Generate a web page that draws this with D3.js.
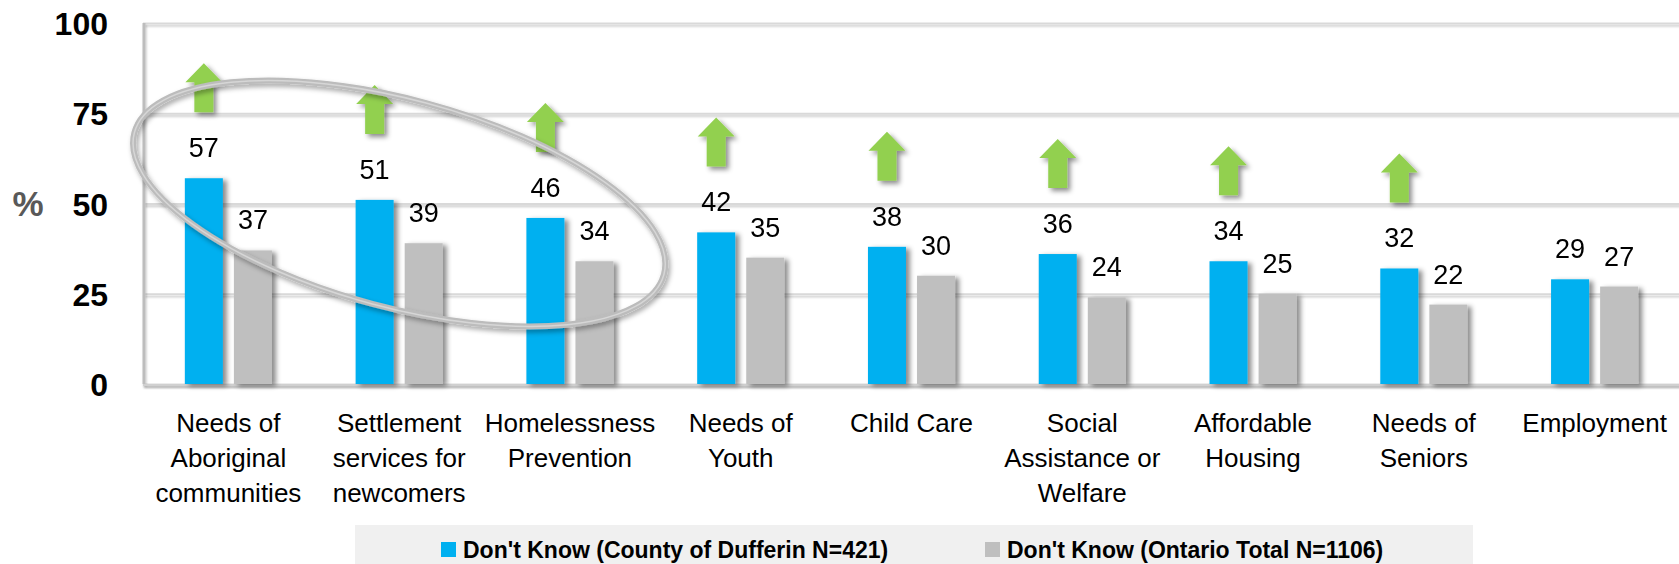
<!DOCTYPE html>
<html>
<head>
<meta charset="utf-8">
<script src="https://cdn.jsdelivr.net/npm/d3@7"></script>
<style>
  html, body { margin: 0; padding: 0; background: #ffffff; }
  svg { display: block; font-family: "Liberation Sans", Arial, sans-serif; }
</style>
</head>
<body>
<svg id="chart" width="1679" height="564"></svg>
<script>
// Service categories (line breaks mark label wrapping)
const categories = [
  "Needs of\nAboriginal\ncommunities",
  "Settlement\nservices for\nnewcomers",
  "Homelessness\nPrevention",
  "Needs of\nYouth",
  "Child Care",
  "Social\nAssistance or\nWelfare",
  "Affordable\nHousing",
  "Needs of\nSeniors",
  "Employment"
];
// "Don't Know" shares, percent
const dufferinValues = [57, 51, 46, 42, 38, 36, 34, 32, 29];
const ontarioValues  = [37, 39, 34, 35, 30, 24, 25, 22, 27];
// Categories where the county share is notably higher than the province
const higherFlags = [true, true, true, true, true, true, true, true, false];
// Categories grouped by the highlight ring
const highlighted = [0, 2];
const seriesNames = [
  "Don't Know (County of Dufferin N=421)",
  "Don't Know (Ontario Total N=1106)"
];
const yTicks = [0, 25, 50, 75, 100];

const seriesColors = ["#00B0F0", "#BFBFBF"];
const svg = d3.select("#chart");
const W = 1679, H = 564;
const plot = { left: 143, right: 1680, top: 23, bottom: 384 };

// Shadow filters (user-space regions so thin lines keep their shadow)
const defs = svg.append("defs");
function shadow(id, dx, dy, sd, op) {
  const f = defs.append("filter").attr("id", id)
    .attr("filterUnits", "userSpaceOnUse")
    .attr("x", -50).attr("y", -50).attr("width", W + 100).attr("height", H + 100);
  f.append("feDropShadow").attr("dx", dx).attr("dy", dy)
    .attr("stdDeviation", sd).attr("flood-color", "#000").attr("flood-opacity", op);
}
shadow("barShadow", 4, 2, 2.5, 0.45);
shadow("lineShadow", 1, 2, 1.2, 0.22);
shadow("arrowShadow", 3, 3, 2.5, 0.45);
shadow("ringShadow", 2, 3, 2.5, 0.35);

const x0 = d3.scaleBand().domain(d3.range(categories.length))
  .range([plot.left, plot.right]).paddingInner(0.49).paddingOuter(0.245);
const x1 = d3.scaleBand().domain([0, 1]).range([0, x0.bandwidth()]).paddingInner(0.225);
const y = d3.scaleLinear().domain([0, 100]).range([plot.bottom, plot.top]);

// Gridlines
const grid = svg.append("g").attr("filter", "url(#lineShadow)")
  .attr("transform", `translate(${plot.left},0)`)
  .call(d3.axisLeft(y).tickValues(yTicks).tickSize(-(plot.right - plot.left)).tickFormat(""));
grid.select(".domain").remove();
grid.selectAll(".tick line").attr("stroke", "#d9d9d9").attr("stroke-width", 2);

// Left wall and base line
const frame = svg.append("g").attr("filter", "url(#lineShadow)");
frame.append("line").attr("x1", plot.left + 1).attr("x2", plot.left + 1)
  .attr("y1", y(100)).attr("y2", y(0)).attr("stroke", "#bdbdbd").attr("stroke-width", 3);
frame.append("line").attr("x1", plot.left).attr("x2", plot.right)
  .attr("y1", y(0) + 1).attr("y2", y(0) + 1).attr("stroke", "#d0d0d0").attr("stroke-width", 2);

// Y tick labels
const yAxis = svg.append("g").attr("transform", "translate(108,0)")
  .call(d3.axisLeft(y).tickValues(yTicks).tickSize(0).tickPadding(0));
yAxis.select(".domain").remove();
yAxis.selectAll("text")
  .attr("font-family", "'Liberation Sans', Arial, sans-serif")
  .attr("font-size", 32).attr("font-weight", "bold").attr("fill", "#000")
  .attr("dy", "0.36em");

svg.append("text").attr("x", 28).attr("y", y(50)).attr("dy", "0.36em")
  .attr("text-anchor", "middle").attr("font-size", 35).attr("font-weight", "bold")
  .attr("fill", "#595959").text("%");

// Bars
const rows = categories.map((c, i) => ({ i, vals: [dufferinValues[i], ontarioValues[i]] }));
const groups = svg.append("g").attr("filter", "url(#barShadow)")
  .selectAll("g").data(rows).join("g")
  .attr("transform", d => `translate(${x0(d.i)},0)`);
// draw grey bars first so the blue bar's shadow sits over them
groups.selectAll("rect").data(d => d.vals.map((v, s) => ({ v, s })).reverse()).join("rect")
  .attr("x", d => x1(d.s)).attr("width", x1.bandwidth())
  .attr("y", d => y(d.v)).attr("height", d => y(0) - y(d.v))
  .attr("fill", d => seriesColors[d.s]);

// Value labels
const labels = svg.append("g");
rows.forEach(r => {
  r.vals.forEach((v, s) => {
    labels.append("text")
      .attr("x", x0(r.i) + x1(s) + x1.bandwidth() / 2)
      .attr("y", y(v) - 21)
      .attr("text-anchor", "middle").attr("font-size", 27).attr("fill", "#000")
      .text(v);
  });
});

// Up arrows above the county bars
const arrowG = svg.append("g").attr("filter", "url(#arrowShadow)");
rows.filter(r => higherFlags[r.i]).forEach(r => {
  const cx = x0(r.i) + x1(0) + x1.bandwidth() / 2;
  const bottom = y(r.vals[0]) - 66;
  const tip = bottom - 49, hh = 19, hw = 18.5, sw = 9.5;
  const p = d3.path();
  p.moveTo(cx, tip);
  p.lineTo(cx + hw, tip + hh);
  p.lineTo(cx + sw, tip + hh);
  p.lineTo(cx + sw, bottom);
  p.lineTo(cx - sw, bottom);
  p.lineTo(cx - sw, tip + hh);
  p.lineTo(cx - hw, tip + hh);
  p.closePath();
  arrowG.append("path").attr("d", p.toString()).attr("fill", "#92D050");
});

// Highlight ring around the leading categories
const ringCx = (x0(highlighted[0]) + x0(highlighted[1]) + x0.bandwidth()) / 2;
const ringCy = y(50);
const ringOuter = svg.append("g").attr("filter", "url(#ringShadow)");
const ring = ringOuter.append("g").attr("transform", `translate(${ringCx},${ringCy}) rotate(15)`);
ring.append("ellipse").attr("rx", x0.step() * 1.605).attr("ry", 104)
  .attr("fill", "none").attr("stroke", "#bcbcbc").attr("stroke-width", 6);
ring.append("ellipse").attr("rx", x0.step() * 1.605).attr("ry", 104)
  .attr("fill", "none").attr("stroke", "#d6d6d6").attr("stroke-width", 1.5);

// Category labels
const catG = svg.append("g");
categories.forEach((c, i) => {
  const t = catG.append("text").attr("text-anchor", "middle")
    .attr("font-size", 26).attr("fill", "#000");
  c.split("\n").forEach((line, k) => {
    t.append("tspan").attr("x", x0(i) + x0.bandwidth() / 2).attr("y", 432 + k * 35).text(line);
  });
});

// Legend
const legend = svg.append("g");
legend.append("rect").attr("x", 355).attr("y", 525).attr("width", 1118).attr("height", 39)
  .attr("fill", "#f0f0f0");
const legendX = [441, 985];
seriesNames.forEach((name, s) => {
  legend.append("rect").attr("x", legendX[s]).attr("y", 542).attr("width", 15).attr("height", 15)
    .attr("fill", seriesColors[s]);
  legend.append("text").attr("x", legendX[s] + 22).attr("y", 549.5).attr("dy", "0.36em")
    .attr("font-size", 23).attr("font-weight", "bold").attr("fill", "#000").text(name);
});
</script>
</body>
</html>
